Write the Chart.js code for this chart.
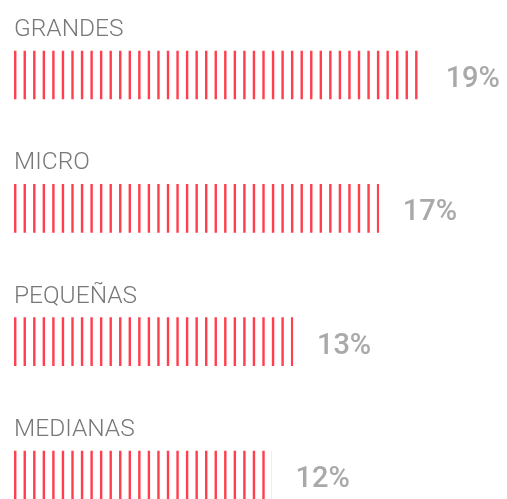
<!DOCTYPE html>
<html>
<head>
<meta charset="utf-8">
<script src="https://cdn.jsdelivr.net/npm/chart.js@4/dist/chart.umd.min.js"></script>
<style>
  html, body { margin: 0; padding: 0; background: #ffffff; }
  #c { display: block; }
</style>
</head>
<body>
<canvas id="c" width="507" height="499"></canvas>
<script>
// Company size categories and their share (%)
const categories = ['GRANDES', 'MICRO', 'PEQUEÑAS', 'MEDIANAS'];
const shares = [19, 17, 13, 12];
const valueLabels = ['19%', '17%', '13%', '12%'];

const PAD_LEFT = 14;

// Vertical red hatching used as the bar fill
function stripePattern(ctx) {
  const pitch = 9.55, count = 20;
  const tile = document.createElement('canvas');
  tile.width = Math.round(pitch * count);
  tile.height = 4;
  const t = tile.getContext('2d');
  t.fillStyle = 'rgb(255, 62, 78)';
  for (let i = 0; i < count; i++) t.fillRect(i * pitch, 0, 2.4, 4);
  const p = ctx.createPattern(tile, 'repeat');
  p.setTransform(new DOMMatrix().translate(PAD_LEFT, 0));
  return p;
}

// Category names above each bar and the percentage to its right
const barText = {
  id: 'barText',
  afterDatasetsDraw(chart) {
    const ctx = chart.ctx;
    const meta = chart.getDatasetMeta(0);
    ctx.save();
    meta.data.forEach((bar, i) => {
      const half = bar.height / 2;
      ctx.textAlign = 'left';
      ctx.textBaseline = 'alphabetic';
      ctx.fillStyle = '#787878';
      ctx.font = '300 24.5px Roboto';
      ctx.fillText(categories[i], chart.chartArea.left, bar.y - half - 15);
      ctx.fillStyle = '#a9a9a9';
      ctx.font = '500 29px Roboto';
      ctx.fillText(valueLabels[i], bar.x + 24, bar.y + 12);
    });
    ctx.restore();
  }
};

const canvas = document.getElementById('c');
const ctx = canvas.getContext('2d');

new Chart(ctx, {
  type: 'bar',
  data: {
    labels: categories,
    datasets: [{
      data: shares,
      backgroundColor: stripePattern(ctx),
      borderWidth: 0,
      barThickness: 48,
      clip: false
    }]
  },
  options: {
    indexAxis: 'y',
    responsive: false,
    devicePixelRatio: 1,
    animation: false,
    layout: { padding: { left: PAD_LEFT, right: 21, top: 75, bottom: 24 } },
    scales: {
      x: { type: 'linear', min: 0, max: 22, display: false },
      y: { type: 'category', offset: false, display: false }
    },
    plugins: {
      legend: { display: false },
      tooltip: { enabled: false }
    }
  },
  plugins: [barText]
});
</script>
</body>
</html>
